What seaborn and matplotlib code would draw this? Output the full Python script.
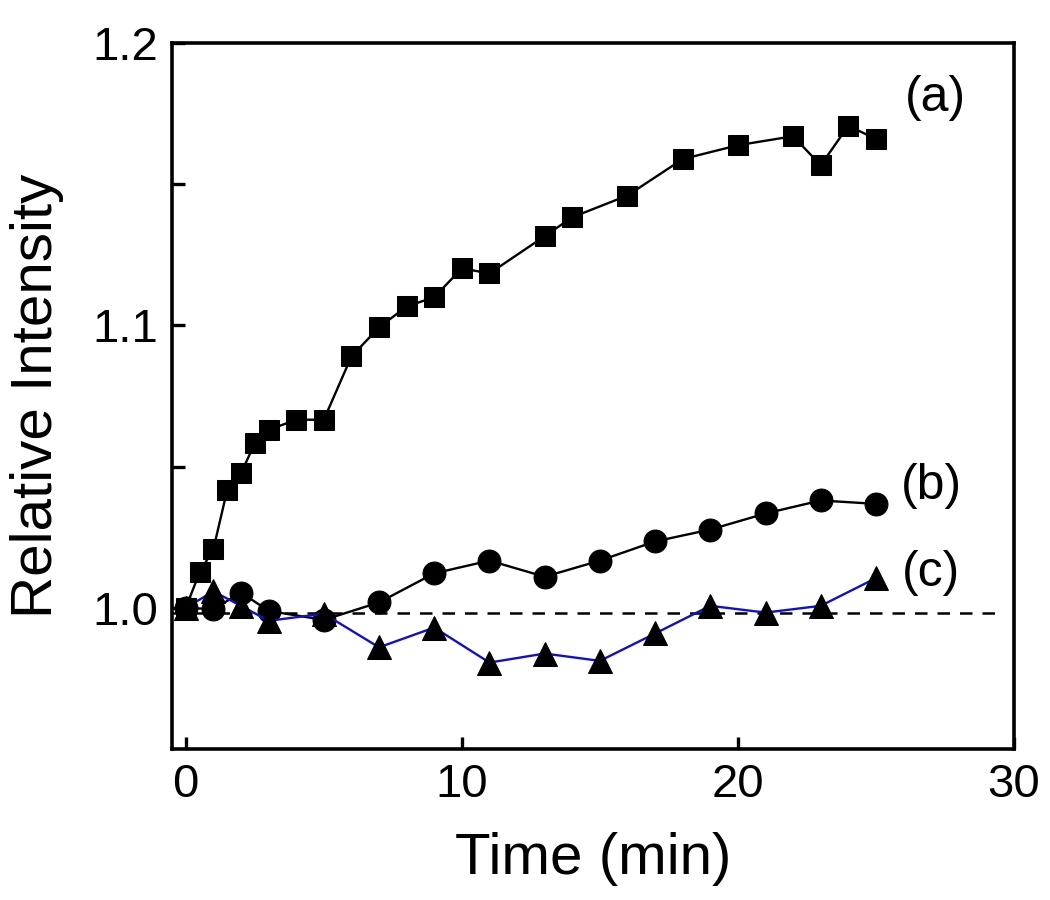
import numpy as np
import pandas as pd
import matplotlib
matplotlib.use("Agg")
import matplotlib.pyplot as plt
import seaborn as sns

# (a) squares
time_a = [0, 0.5, 1, 1.5, 2, 2.5, 3, 4, 5, 6, 7, 8, 9, 10, 11, 13, 14, 16, 18, 20, 22, 23, 24, 25]
int_a = [1.000, 1.0125, 1.0208, 1.0417, 1.0476, 1.0583, 1.063, 1.0666, 1.0666, 1.089, 1.0993, 1.1067,
         1.110, 1.1202, 1.1184, 1.1316, 1.1383, 1.146, 1.1589, 1.1638, 1.167, 1.1567, 1.1707, 1.166]

# (b) circles
time_b = [0, 1, 2, 3, 5, 7, 9, 11, 13, 15, 17, 19, 21, 23, 25]
int_b = [1.000, 0.9995, 1.0054, 0.9989, 0.9957, 1.0019, 1.0122, 1.0167, 1.011, 1.0167, 1.0235,
         1.0277, 1.0334, 1.038, 1.0368]

# (c) triangles
time_c = [0, 1, 2, 3, 5, 7, 9, 11, 13, 15, 17, 19, 21, 23, 25]
int_c = [1.000, 1.0058, 1.0007, 0.9954, 0.9979, 0.986, 0.993, 0.9806, 0.9838, 0.9812, 0.9909,
         1.0007, 0.9983, 1.0007, 1.0105]

baseline = 0.998
labels = ['(a)', '(b)', '(c)']
label_x = [27.15, 27.0, 27.0]
label_y = [1.1805, 1.0433, 1.0124]

sns.set_style('ticks')
plt.rcParams['font.family'] = ['Liberation Sans', 'DejaVu Sans']
plt.rcParams['text.color'] = 'black'
plt.rcParams['axes.labelcolor'] = 'black'

fig = plt.figure(figsize=(10.5, 9), dpi=100)
ax = fig.add_axes([0.1638, 0.1678, 0.8019, 0.7844])

ax.hlines(baseline, -0.5, 29.3, colors='black', linestyles=(0, (5, 4)), linewidth=1.8, zorder=1)

sns.lineplot(x=time_b, y=int_b, ax=ax, color='black', linewidth=1.7, marker='o', markersize=16.5,
             markeredgecolor='black', sort=False, estimator=None, zorder=2)
sns.lineplot(x=time_c, y=int_c, ax=ax, color='#1010cc', linewidth=1.7, marker='^', markersize=17,
             markerfacecolor='black', markeredgecolor='black', sort=False, estimator=None, zorder=3)
sns.lineplot(x=time_a, y=int_a, ax=ax, color='black', linewidth=1.7, marker='s', markersize=14.5,
             markeredgecolor='black', sort=False, estimator=None, zorder=4)

for lab, lx, ly in zip(labels, label_x, label_y):
    ax.text(lx, ly, lab, fontsize=36, ha='center', va='center', color='black')

ax.set_xlim(-0.5, 30)
ax.set_ylim(0.95, 1.2)
ax.set_xticks([0, 10, 20, 30])
ax.set_yticks([1.0, 1.1, 1.2])
ax.set_yticks([1.05, 1.15], minor=True)
ax.set_yticklabels(['1.0', '1.1', '1.2'])

for s in ax.spines.values():
    s.set_linewidth(2.6)
    s.set_color('black')

ax.tick_params(axis='both', which='both', direction='in', width=2.4, length=9, labelsize=34,
               colors='black', pad=10, top=False, right=False)

ax.set_xlabel('Time (min)', fontsize=42, labelpad=18)
ax.set_ylabel('Relative Intensity', fontsize=42, labelpad=20)

fig.savefig('out.png', dpi=100)
